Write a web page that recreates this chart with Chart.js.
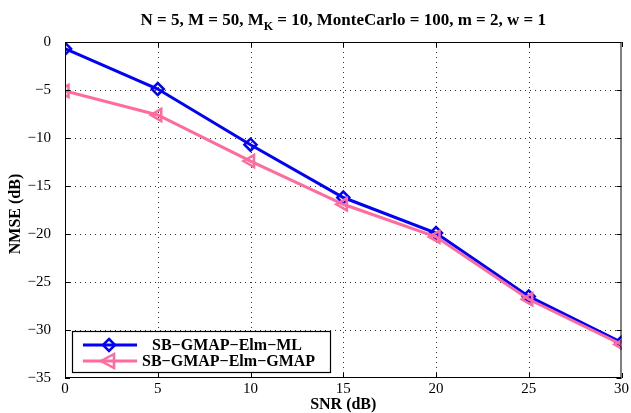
<!DOCTYPE html>
<html>
<head>
<meta charset="utf-8">
<script src="https://cdn.jsdelivr.net/npm/chart.js@4"></script>
<style>
  html, body { margin: 0; padding: 0; background: #fff; }
  #wrap { width: 631px; height: 413px; }
</style>
</head>
<body>
<div id="wrap"><canvas id="nmse_chart" width="631" height="413"></canvas></div>
<script>
// SNR sweep, NMSE in dB
const snr_db = [0, 5, 10, 15, 20, 25, 30]
const nmse_elm_ml = [-0.7, -4.9, -10.7, -16.2, -19.9, -26.5, -31.3]
const nmse_elm_gmap = [-5.1, -7.6, -12.4, -16.9, -20.3, -26.8, -31.5]
const y_ticks = [0, -5, -10, -15, -20, -25, -30, -35]
const series_names = ['SB\u2212GMAP\u2212Elm\u2212ML', 'SB\u2212GMAP\u2212Elm\u2212GMAP']
const x_title = 'SNR (dB)'
const y_title = 'NMSE (dB)'

const serif = '"Liberation Serif", "DejaVu Serif", serif'
const blue = '#0000ff'
const pink = '#ff6b9c'

// title with the subscript K plus the two axis titles
const title_plugin = {
  id: 'title_plugin',
  afterDraw(chart) {
    const ctx = chart.ctx
    const area = chart.chartArea
    const parts = [
      { t: 'N = 5, M = 50, M', sub: false },
      { t: 'K', sub: true },
      { t: ' = 10, MonteCarlo = 100, m = 2, w = 1', sub: false }
    ]
    ctx.save()
    ctx.fillStyle = '#000'
    ctx.textBaseline = 'alphabetic'
    let total = 0
    parts.forEach(p => {
      ctx.font = (p.sub ? 'bold 12px ' : 'bold 17px ') + serif
      p.w = ctx.measureText(p.t).width
      total += p.w
    })
    let x = (area.left + area.right) / 2 - total / 2
    parts.forEach(p => {
      ctx.font = (p.sub ? 'bold 12px ' : 'bold 17px ') + serif
      ctx.fillText(p.t, x, p.sub ? 30 : 25)
      x += p.w
    })

    ctx.font = 'bold 16px ' + serif
    ctx.textAlign = 'center'
    ctx.textBaseline = 'middle'
    ctx.fillText(x_title, (area.left + area.right) / 2, 405)
    ctx.translate(16, (area.top + area.bottom) / 2 + 4)
    ctx.rotate(-Math.PI / 2)
    ctx.fillText(y_title, 0, 0)
    ctx.restore()
  }
}

// dotted grid (MATLAB "grid on")
const grid_plugin = {
  id: 'grid_plugin',
  beforeDatasetsDraw(chart) {
    const ctx = chart.ctx
    const a = chart.chartArea
    const xs = chart.scales.x
    const ys = chart.scales.y
    ctx.save()
    ctx.strokeStyle = '#333'
    ctx.lineWidth = 1
    ctx.setLineDash([1, 4])
    ctx.beginPath()
    snr_db.slice(1, -1).forEach(v => {
      const px = Math.round(xs.getPixelForValue(v)) + 0.5
      ctx.moveTo(px, a.top); ctx.lineTo(px, a.bottom)
    })
    y_ticks.slice(1, -1).forEach(v => {
      const py = Math.round(ys.getPixelForValue(v)) + 0.5
      ctx.moveTo(a.left, py); ctx.lineTo(a.right, py)
    })
    ctx.stroke()
    ctx.restore()
  }
}

// frame, inward ticks and the legend box inside the axes
const frame_plugin = {
  id: 'frame_plugin',
  afterDatasetsDraw(chart) {
    const ctx = chart.ctx
    const a = chart.chartArea
    const xs = chart.scales.x
    const ys = chart.scales.y
    ctx.save()
    ctx.strokeStyle = '#000'
    ctx.lineWidth = 1
    ctx.strokeRect(a.left + 0.5, a.top + 0.5, a.right - a.left - 1, a.bottom - a.top - 1)
    ctx.beginPath()
    snr_db.forEach(v => {
      const px = Math.round(xs.getPixelForValue(v)) + 0.5
      ctx.moveTo(px, a.bottom); ctx.lineTo(px, a.bottom - 5)
      ctx.moveTo(px, a.top); ctx.lineTo(px, a.top + 5)
    })
    y_ticks.forEach(v => {
      const py = Math.round(ys.getPixelForValue(v)) + 0.5
      ctx.moveTo(a.left, py); ctx.lineTo(a.left + 5, py)
      ctx.moveTo(a.right, py); ctx.lineTo(a.right - 5, py)
    })
    ctx.stroke()

    // legend
    const lx = 72, ly = 331, lw = 258, lh = 41
    ctx.fillStyle = '#fff'
    ctx.fillRect(lx, ly, lw, lh)
    ctx.lineWidth = 1.2
    ctx.strokeRect(lx + 0.5, ly + 0.5, lw, lh)
    const rows = [
      { name: series_names[0], color: blue, y: ly + 14, tx: 152 },
      { name: series_names[1], color: pink, y: ly + 30, tx: 142 }
    ]
    rows.forEach((r, i) => {
      ctx.strokeStyle = r.color
      ctx.lineWidth = 3
      ctx.beginPath()
      ctx.moveTo(lx + 11, r.y); ctx.lineTo(lx + 65, r.y)
      ctx.stroke()
      const mx = lx + 37
      ctx.lineWidth = 2.5
      ctx.beginPath()
      if (i === 0) {
        ctx.moveTo(mx, r.y - 6); ctx.lineTo(mx + 6, r.y); ctx.lineTo(mx, r.y + 6); ctx.lineTo(mx - 6, r.y)
      } else {
        ctx.moveTo(mx - 8, r.y); ctx.lineTo(mx + 5, r.y - 7); ctx.lineTo(mx + 5, r.y + 7)
      }
      ctx.closePath()
      ctx.stroke()
      ctx.fillStyle = '#000'
      ctx.font = 'bold 16px ' + serif
      ctx.textBaseline = 'middle'
      ctx.fillText(r.name, r.tx, r.y + 1)
    })
    ctx.restore()
  }
}

const ctx = document.getElementById('nmse_chart').getContext('2d')

const nmse_chart = new Chart(ctx, {
  type: 'line',
  data: {
    labels: snr_db,
    datasets: [
      {
        label: series_names[0],
        data: nmse_elm_ml.map((v, i) => ({ x: snr_db[i], y: v })),
        borderColor: blue,
        backgroundColor: 'rgba(0,0,0,0)',
        borderWidth: 3,
        pointStyle: 'rectRot',
        pointRadius: 6,
        pointBorderWidth: 2.5,
        pointBackgroundColor: 'rgba(0,0,0,0)',
        pointBorderColor: blue,
        tension: 0,
        order: 1
      },
      {
        label: series_names[1],
        data: nmse_elm_gmap.map((v, i) => ({ x: snr_db[i], y: v })),
        borderColor: pink,
        backgroundColor: 'rgba(0,0,0,0)',
        borderWidth: 3,
        pointStyle: 'triangle',
        pointRotation: -90,
        pointRadius: 7,
        pointBorderWidth: 2.5,
        pointBackgroundColor: 'rgba(0,0,0,0)',
        pointBorderColor: pink,
        tension: 0,
        order: 0
      }
    ]
  },
  options: {
    responsive: false,
    animation: false,
    layout: { padding: { left: 0, right: 8, top: 42, bottom: 0 } },
    plugins: {
      legend: { display: false },
      title: { display: false },
      tooltip: { enabled: false }
    },
    scales: {
      x: {
        type: 'linear',
        min: 0,
        max: 30,
        afterFit: scale => { scale.height = 35 },
        afterBuildTicks: scale => { scale.ticks = snr_db.map(v => ({ value: v })) },
        grid: { display: false },
        border: { display: false },
        ticks: {
          padding: -4,
          color: '#000',
          font: { family: serif, size: 15, lineHeight: 1 },
          maxRotation: 0
        },
        title: { display: false }
      },
      y: {
        type: 'linear',
        min: -35,
        max: 0,
        afterFit: scale => { scale.width = 65 },
        afterBuildTicks: scale => { scale.ticks = y_ticks.map(v => ({ value: v })) },
        grid: { display: false },
        border: { display: false },
        ticks: {
          padding: 6,
          color: '#000',
          font: { family: serif, size: 15 },
          callback: v => String(v).replace('-', '\u2212')
        },
        title: { display: false }
      }
    }
  },
  plugins: [title_plugin, grid_plugin, frame_plugin]
})
</script>
</body>
</html>
